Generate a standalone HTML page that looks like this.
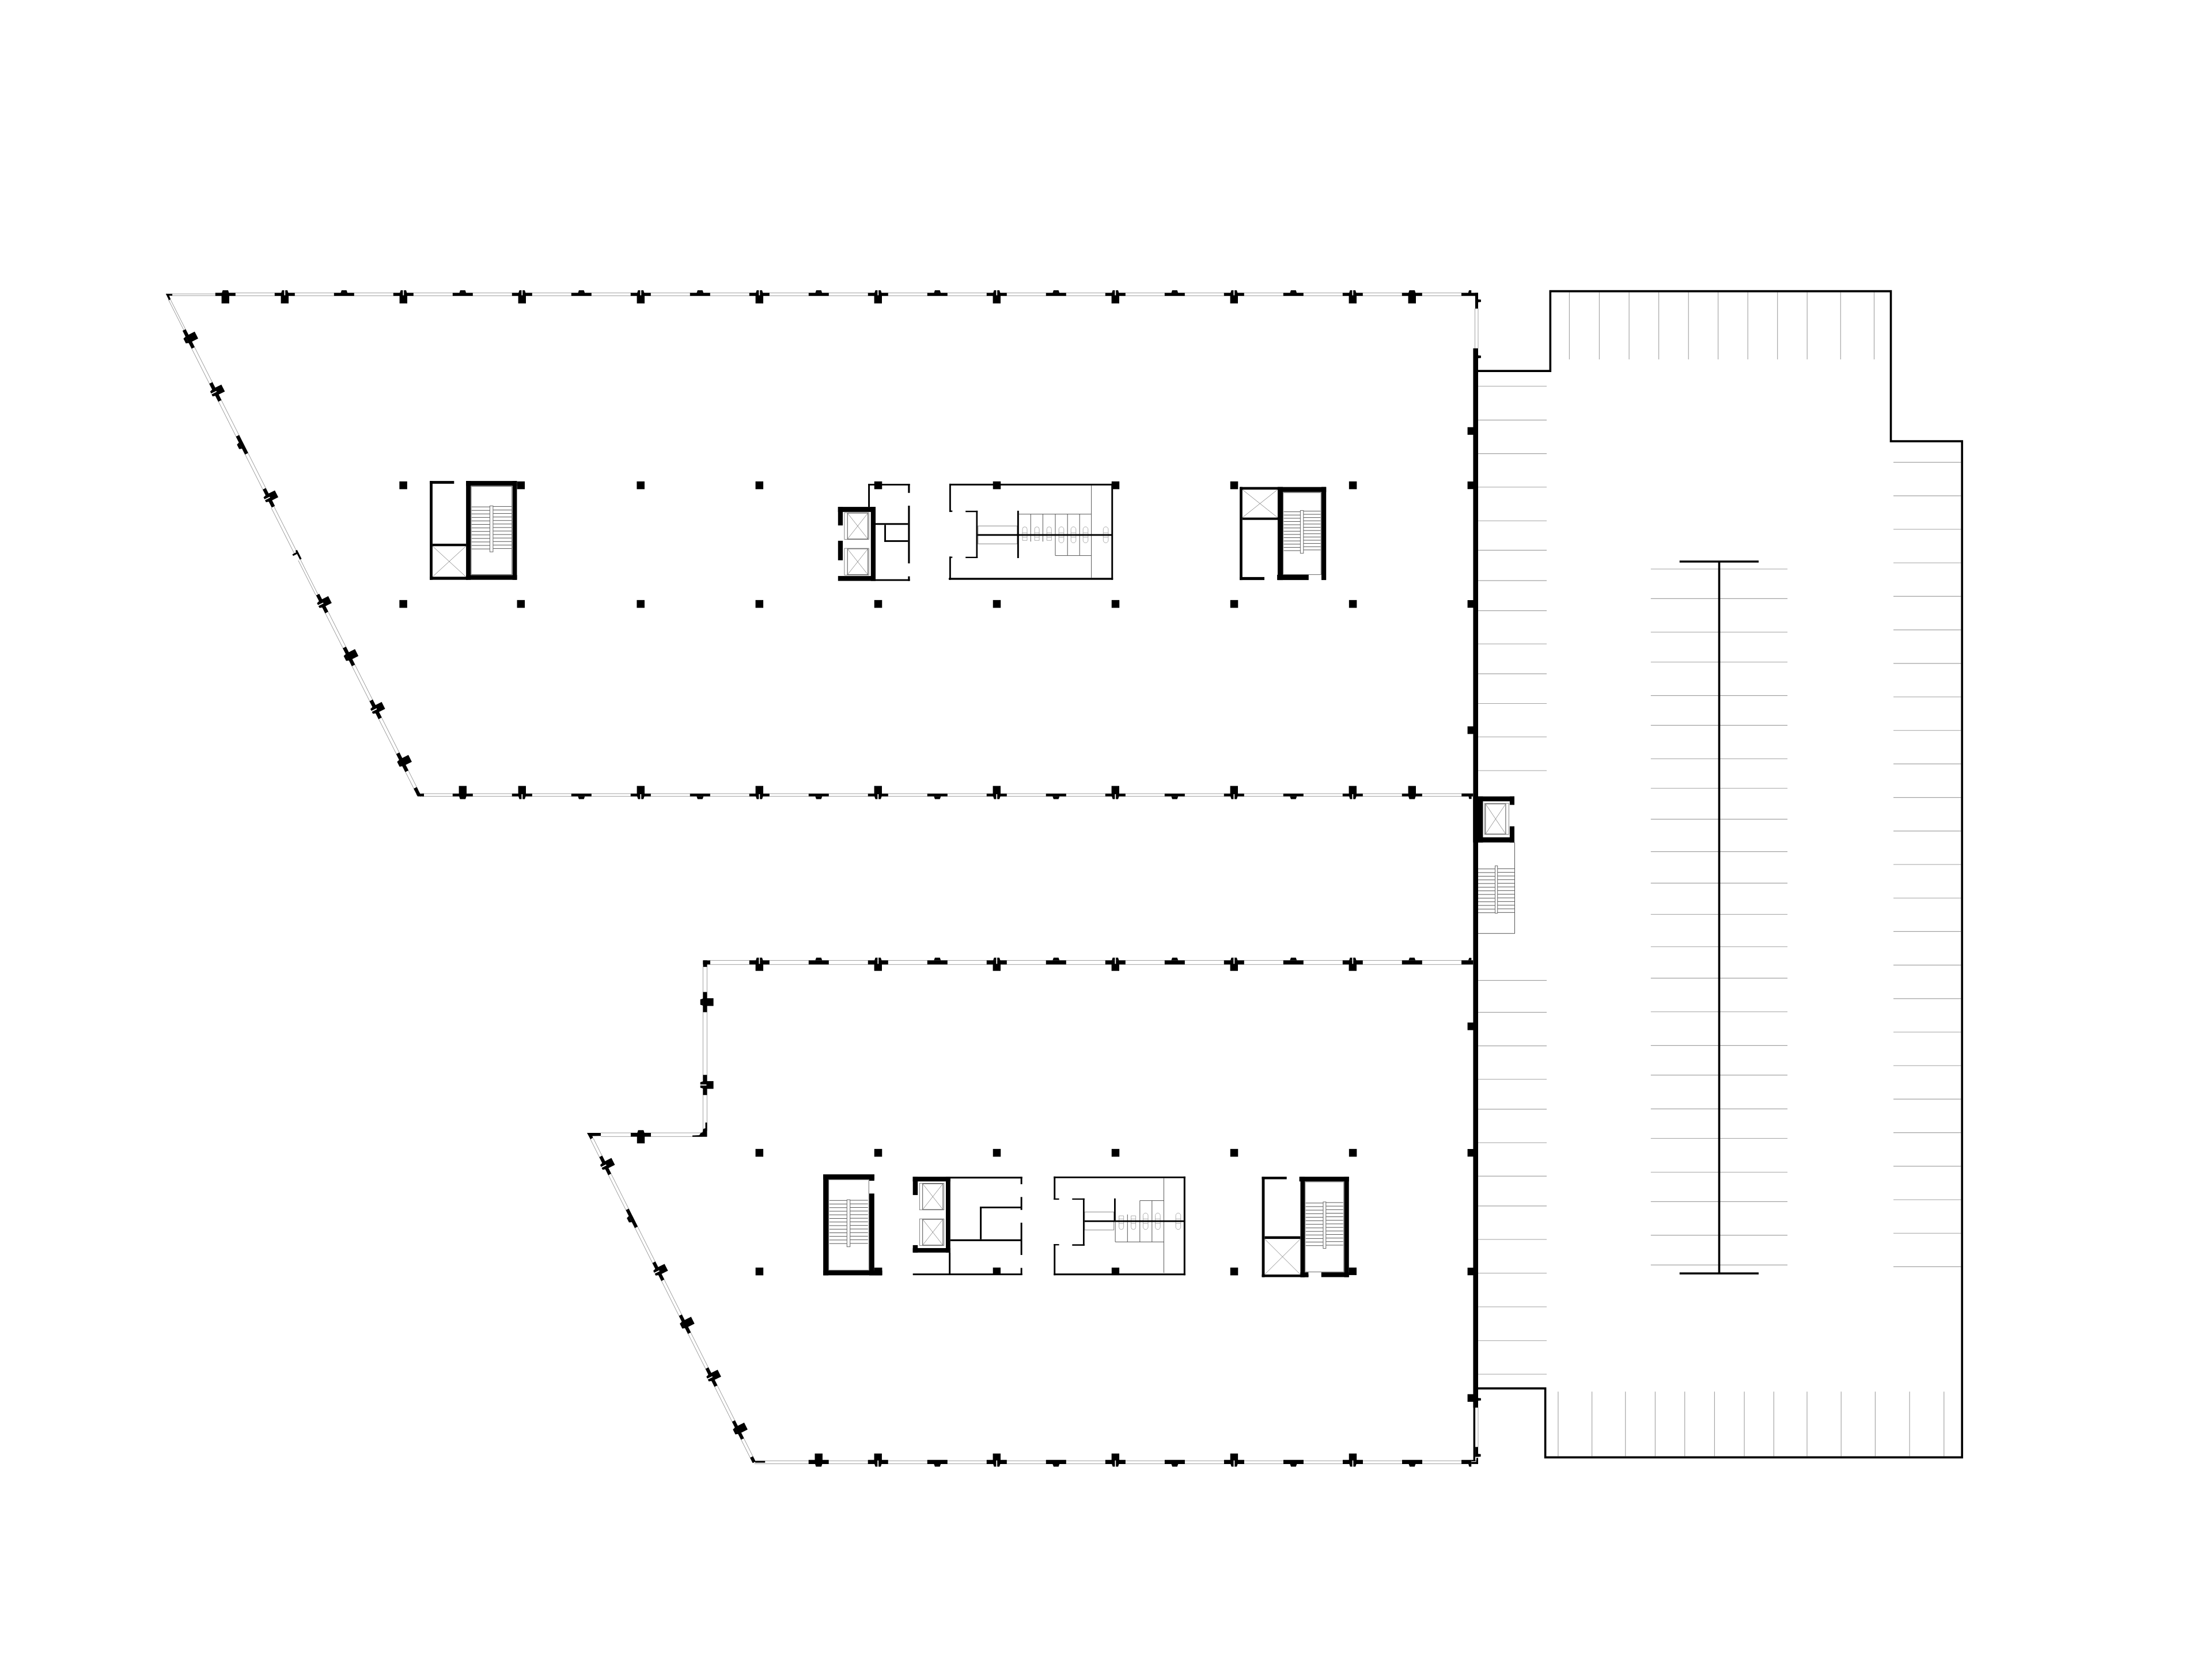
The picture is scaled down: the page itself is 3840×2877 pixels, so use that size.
<!DOCTYPE html>
<html lang="en"><head><meta charset="utf-8"><title>Floor plan</title>
<style>html,body{margin:0;padding:0;background:#fff}body{width:3840px;height:2877px;overflow:hidden;font-family:"Liberation Sans",sans-serif}svg{display:block}</style>
</head><body>
<svg width="3840" height="2877" viewBox="0 0 3840 2877" shape-rendering="geometricPrecision">
<rect width="3840" height="2877" fill="#fff"/>
<g>
<line x1="373.8" y1="508.6" x2="2566" y2="508.6" stroke="#9c9c9c" stroke-width="0.95"/>
<line x1="373.8" y1="513.6" x2="2566" y2="513.6" stroke="#9c9c9c" stroke-width="0.95"/>
<line x1="299" y1="510.3" x2="373.8" y2="510.3" stroke="#9c9c9c" stroke-width="0.95"/>
<line x1="299" y1="513.4" x2="373.8" y2="513.4" stroke="#9c9c9c" stroke-width="0.95"/>
<line x1="332.89" y1="605.48" x2="456.23" y2="849.82" stroke="#868686" stroke-width="0.85"/>
<line x1="337.89" y1="602.96" x2="461.23" y2="847.29" stroke="#868686" stroke-width="0.85"/>
<line x1="470.84" y1="881.65" x2="510.81" y2="960.83" stroke="#868686" stroke-width="0.85"/>
<line x1="475.57" y1="879.26" x2="514.28" y2="955.94" stroke="#868686" stroke-width="0.85"/>
<line x1="517.79" y1="973.1" x2="548.44" y2="1033.8" stroke="#868686" stroke-width="0.85"/>
<line x1="521.36" y1="971.3" x2="552.01" y2="1032" stroke="#868686" stroke-width="0.85"/>
<line x1="564.75" y1="1064.78" x2="720.66" y2="1373.64" stroke="#868686" stroke-width="0.85"/>
<line x1="569.74" y1="1062.26" x2="725.66" y2="1371.11" stroke="#868686" stroke-width="0.85"/>
<line x1="292.26" y1="520.13" x2="319.08" y2="573.25" stroke="#868686" stroke-width="0.85"/>
<line x1="295.21" y1="518.65" x2="322.02" y2="571.76" stroke="#868686" stroke-width="0.85"/>
<line x1="733.2" y1="1382.6" x2="2557" y2="1382.6" stroke="#9c9c9c" stroke-width="0.95"/>
<line x1="733.2" y1="1378" x2="2557" y2="1378" stroke="#9c9c9c" stroke-width="0.95"/>
<line x1="2560.5" y1="535.8" x2="2560.5" y2="604.8" stroke="#9c9c9c" stroke-width="0.95"/>
<line x1="2566" y1="535.8" x2="2566" y2="604.8" stroke="#9c9c9c" stroke-width="0.95"/>
<line x1="2566" y1="2444" x2="2566" y2="2512.3" stroke="#9c9c9c" stroke-width="0.95"/>
<line x1="1232.5" y1="1667.5" x2="2557" y2="1667.5" stroke="#9c9c9c" stroke-width="0.95"/>
<line x1="1232.5" y1="1674.7" x2="2557" y2="1674.7" stroke="#9c9c9c" stroke-width="0.95"/>
<line x1="1220.4" y1="1678.5" x2="1220.4" y2="1963.7" stroke="#9c9c9c" stroke-width="0.95"/>
<line x1="1227.4" y1="1678.5" x2="1227.4" y2="1963.7" stroke="#9c9c9c" stroke-width="0.95"/>
<line x1="1043" y1="1967" x2="1219.5" y2="1967" stroke="#9c9c9c" stroke-width="0.95"/>
<line x1="1043" y1="1973.3" x2="1219.5" y2="1973.3" stroke="#9c9c9c" stroke-width="0.95"/>
<line x1="1024.36" y1="1976.84" x2="1306.75" y2="2539.82" stroke="#868686" stroke-width="0.85"/>
<line x1="1029.91" y1="1976.3" x2="1311.4" y2="2537.49" stroke="#868686" stroke-width="0.85"/>
<line x1="1309.5" y1="2541.5" x2="2554" y2="2541.5" stroke="#9c9c9c" stroke-width="0.95"/>
<line x1="1312.5" y1="2536.4" x2="2554" y2="2536.4" stroke="#9c9c9c" stroke-width="0.95"/>
<line x1="2724.4" y1="507.3" x2="2724.4" y2="624" stroke="#a2a2a2" stroke-width="1.15"/>
<line x1="2776.4" y1="507.3" x2="2776.4" y2="624" stroke="#a2a2a2" stroke-width="1.15"/>
<line x1="2828.1" y1="507.3" x2="2828.1" y2="624" stroke="#a2a2a2" stroke-width="1.15"/>
<line x1="2879.6" y1="507.3" x2="2879.6" y2="624" stroke="#a2a2a2" stroke-width="1.15"/>
<line x1="2931.2" y1="507.3" x2="2931.2" y2="624" stroke="#a2a2a2" stroke-width="1.15"/>
<line x1="2982.6" y1="507.3" x2="2982.6" y2="624" stroke="#a2a2a2" stroke-width="1.15"/>
<line x1="3034.2" y1="507.3" x2="3034.2" y2="624" stroke="#a2a2a2" stroke-width="1.15"/>
<line x1="3085.7" y1="507.3" x2="3085.7" y2="624" stroke="#a2a2a2" stroke-width="1.15"/>
<line x1="3137.2" y1="507.3" x2="3137.2" y2="624" stroke="#a2a2a2" stroke-width="1.15"/>
<line x1="3195.3" y1="507.3" x2="3195.3" y2="624" stroke="#a2a2a2" stroke-width="1.15"/>
<line x1="3253.5" y1="507.3" x2="3253.5" y2="624" stroke="#a2a2a2" stroke-width="1.15"/>
<line x1="2566" y1="670.5" x2="2685" y2="670.5" stroke="#a2a2a2" stroke-width="1.15"/>
<line x1="2566" y1="729.3" x2="2685" y2="729.3" stroke="#a2a2a2" stroke-width="1.15"/>
<line x1="2566" y1="787.6" x2="2685" y2="787.6" stroke="#a2a2a2" stroke-width="1.15"/>
<line x1="2566" y1="845.7" x2="2685" y2="845.7" stroke="#a2a2a2" stroke-width="1.15"/>
<line x1="2566" y1="904.2" x2="2685" y2="904.2" stroke="#a2a2a2" stroke-width="1.15"/>
<line x1="2566" y1="955.4" x2="2685" y2="955.4" stroke="#a2a2a2" stroke-width="1.15"/>
<line x1="2566" y1="1008.1" x2="2685" y2="1008.1" stroke="#a2a2a2" stroke-width="1.15"/>
<line x1="2566" y1="1060.3" x2="2685" y2="1060.3" stroke="#a2a2a2" stroke-width="1.15"/>
<line x1="2566" y1="1118" x2="2685" y2="1118" stroke="#a2a2a2" stroke-width="1.15"/>
<line x1="2566" y1="1169.9" x2="2685" y2="1169.9" stroke="#a2a2a2" stroke-width="1.15"/>
<line x1="2566" y1="1221.5" x2="2685" y2="1221.5" stroke="#a2a2a2" stroke-width="1.15"/>
<line x1="2566" y1="1279.5" x2="2685" y2="1279.5" stroke="#a2a2a2" stroke-width="1.15"/>
<line x1="2566" y1="1338" x2="2685" y2="1338" stroke="#a2a2a2" stroke-width="1.15"/>
<line x1="2566" y1="1702.4" x2="2685" y2="1702.4" stroke="#a2a2a2" stroke-width="1.15"/>
<line x1="2566" y1="1757.6" x2="2685" y2="1757.6" stroke="#a2a2a2" stroke-width="1.15"/>
<line x1="2566" y1="1815.9" x2="2685" y2="1815.9" stroke="#a2a2a2" stroke-width="1.15"/>
<line x1="2566" y1="1874" x2="2685" y2="1874" stroke="#a2a2a2" stroke-width="1.15"/>
<line x1="2566" y1="1925.8" x2="2685" y2="1925.8" stroke="#a2a2a2" stroke-width="1.15"/>
<line x1="2566" y1="1984" x2="2685" y2="1984" stroke="#a2a2a2" stroke-width="1.15"/>
<line x1="2566" y1="2042.1" x2="2685" y2="2042.1" stroke="#a2a2a2" stroke-width="1.15"/>
<line x1="2566" y1="2093.8" x2="2685" y2="2093.8" stroke="#a2a2a2" stroke-width="1.15"/>
<line x1="2566" y1="2152" x2="2685" y2="2152" stroke="#a2a2a2" stroke-width="1.15"/>
<line x1="2566" y1="2210.5" x2="2685" y2="2210.5" stroke="#a2a2a2" stroke-width="1.15"/>
<line x1="2566" y1="2269" x2="2685" y2="2269" stroke="#a2a2a2" stroke-width="1.15"/>
<line x1="2566" y1="2327.7" x2="2685" y2="2327.7" stroke="#a2a2a2" stroke-width="1.15"/>
<line x1="2566" y1="2386" x2="2685" y2="2386" stroke="#a2a2a2" stroke-width="1.15"/>
<line x1="2865.8" y1="988" x2="3103" y2="988" stroke="#a2a2a2" stroke-width="1.15"/>
<line x1="2865.8" y1="1039.3" x2="3103" y2="1039.3" stroke="#a2a2a2" stroke-width="1.15"/>
<line x1="2865.8" y1="1097.5" x2="3103" y2="1097.5" stroke="#a2a2a2" stroke-width="1.15"/>
<line x1="2865.8" y1="1149.5" x2="3103" y2="1149.5" stroke="#a2a2a2" stroke-width="1.15"/>
<line x1="2865.8" y1="1207.6" x2="3103" y2="1207.6" stroke="#a2a2a2" stroke-width="1.15"/>
<line x1="2865.8" y1="1259.3" x2="3103" y2="1259.3" stroke="#a2a2a2" stroke-width="1.15"/>
<line x1="2865.8" y1="1317.5" x2="3103" y2="1317.5" stroke="#a2a2a2" stroke-width="1.15"/>
<line x1="2865.8" y1="1368.7" x2="3103" y2="1368.7" stroke="#a2a2a2" stroke-width="1.15"/>
<line x1="2865.8" y1="1422.4" x2="3103" y2="1422.4" stroke="#a2a2a2" stroke-width="1.15"/>
<line x1="2865.8" y1="1478.6" x2="3103" y2="1478.6" stroke="#a2a2a2" stroke-width="1.15"/>
<line x1="2865.8" y1="1533.3" x2="3103" y2="1533.3" stroke="#a2a2a2" stroke-width="1.15"/>
<line x1="2865.8" y1="1587.5" x2="3103" y2="1587.5" stroke="#a2a2a2" stroke-width="1.15"/>
<line x1="2865.8" y1="1643.7" x2="3103" y2="1643.7" stroke="#a2a2a2" stroke-width="1.15"/>
<line x1="2865.8" y1="1698.4" x2="3103" y2="1698.4" stroke="#a2a2a2" stroke-width="1.15"/>
<line x1="2865.8" y1="1756.7" x2="3103" y2="1756.7" stroke="#a2a2a2" stroke-width="1.15"/>
<line x1="2865.8" y1="1815.4" x2="3103" y2="1815.4" stroke="#a2a2a2" stroke-width="1.15"/>
<line x1="2865.8" y1="1866.6" x2="3103" y2="1866.6" stroke="#a2a2a2" stroke-width="1.15"/>
<line x1="2865.8" y1="1925.3" x2="3103" y2="1925.3" stroke="#a2a2a2" stroke-width="1.15"/>
<line x1="2865.8" y1="1976.5" x2="3103" y2="1976.5" stroke="#a2a2a2" stroke-width="1.15"/>
<line x1="2865.8" y1="2035.2" x2="3103" y2="2035.2" stroke="#a2a2a2" stroke-width="1.15"/>
<line x1="2865.8" y1="2086.4" x2="3103" y2="2086.4" stroke="#a2a2a2" stroke-width="1.15"/>
<line x1="2865.8" y1="2144.6" x2="3103" y2="2144.6" stroke="#a2a2a2" stroke-width="1.15"/>
<line x1="2865.8" y1="2196.3" x2="3103" y2="2196.3" stroke="#a2a2a2" stroke-width="1.15"/>
<line x1="3287" y1="802.6" x2="3404.4" y2="802.6" stroke="#a2a2a2" stroke-width="1.15"/>
<line x1="3287" y1="860.8" x2="3404.4" y2="860.8" stroke="#a2a2a2" stroke-width="1.15"/>
<line x1="3287" y1="919" x2="3404.4" y2="919" stroke="#a2a2a2" stroke-width="1.15"/>
<line x1="3287" y1="977.2" x2="3404.4" y2="977.2" stroke="#a2a2a2" stroke-width="1.15"/>
<line x1="3287" y1="1035.4" x2="3404.4" y2="1035.4" stroke="#a2a2a2" stroke-width="1.15"/>
<line x1="3287" y1="1093.6" x2="3404.4" y2="1093.6" stroke="#a2a2a2" stroke-width="1.15"/>
<line x1="3287" y1="1151.8" x2="3404.4" y2="1151.8" stroke="#a2a2a2" stroke-width="1.15"/>
<line x1="3287" y1="1210" x2="3404.4" y2="1210" stroke="#a2a2a2" stroke-width="1.15"/>
<line x1="3287" y1="1268.2" x2="3404.4" y2="1268.2" stroke="#a2a2a2" stroke-width="1.15"/>
<line x1="3287" y1="1326.4" x2="3404.4" y2="1326.4" stroke="#a2a2a2" stroke-width="1.15"/>
<line x1="3287" y1="1384.6" x2="3404.4" y2="1384.6" stroke="#a2a2a2" stroke-width="1.15"/>
<line x1="3287" y1="1442.8" x2="3404.4" y2="1442.8" stroke="#a2a2a2" stroke-width="1.15"/>
<line x1="3287" y1="1501" x2="3404.4" y2="1501" stroke="#a2a2a2" stroke-width="1.15"/>
<line x1="3287" y1="1559.2" x2="3404.4" y2="1559.2" stroke="#a2a2a2" stroke-width="1.15"/>
<line x1="3287" y1="1617.4" x2="3404.4" y2="1617.4" stroke="#a2a2a2" stroke-width="1.15"/>
<line x1="3287" y1="1675.6" x2="3404.4" y2="1675.6" stroke="#a2a2a2" stroke-width="1.15"/>
<line x1="3287" y1="1733.8" x2="3404.4" y2="1733.8" stroke="#a2a2a2" stroke-width="1.15"/>
<line x1="3287" y1="1792" x2="3404.4" y2="1792" stroke="#a2a2a2" stroke-width="1.15"/>
<line x1="3287" y1="1850.2" x2="3404.4" y2="1850.2" stroke="#a2a2a2" stroke-width="1.15"/>
<line x1="3287" y1="1908.4" x2="3404.4" y2="1908.4" stroke="#a2a2a2" stroke-width="1.15"/>
<line x1="3287" y1="1966.6" x2="3404.4" y2="1966.6" stroke="#a2a2a2" stroke-width="1.15"/>
<line x1="3287" y1="2024.8" x2="3404.4" y2="2024.8" stroke="#a2a2a2" stroke-width="1.15"/>
<line x1="3287" y1="2083" x2="3404.4" y2="2083" stroke="#a2a2a2" stroke-width="1.15"/>
<line x1="3287" y1="2141.2" x2="3404.4" y2="2141.2" stroke="#a2a2a2" stroke-width="1.15"/>
<line x1="3287" y1="2199.4" x2="3404.4" y2="2199.4" stroke="#a2a2a2" stroke-width="1.15"/>
<line x1="2704.9" y1="2416.3" x2="2704.9" y2="2528.6" stroke="#a2a2a2" stroke-width="1.15"/>
<line x1="2763.6" y1="2416.3" x2="2763.6" y2="2528.6" stroke="#a2a2a2" stroke-width="1.15"/>
<line x1="2821.7" y1="2416.3" x2="2821.7" y2="2528.6" stroke="#a2a2a2" stroke-width="1.15"/>
<line x1="2873.4" y1="2416.3" x2="2873.4" y2="2528.6" stroke="#a2a2a2" stroke-width="1.15"/>
<line x1="2924.7" y1="2416.3" x2="2924.7" y2="2528.6" stroke="#a2a2a2" stroke-width="1.15"/>
<line x1="2976.4" y1="2416.3" x2="2976.4" y2="2528.6" stroke="#a2a2a2" stroke-width="1.15"/>
<line x1="3028.1" y1="2416.3" x2="3028.1" y2="2528.6" stroke="#a2a2a2" stroke-width="1.15"/>
<line x1="3079.3" y1="2416.3" x2="3079.3" y2="2528.6" stroke="#a2a2a2" stroke-width="1.15"/>
<line x1="3137" y1="2416.3" x2="3137" y2="2528.6" stroke="#a2a2a2" stroke-width="1.15"/>
<line x1="3196.2" y1="2416.3" x2="3196.2" y2="2528.6" stroke="#a2a2a2" stroke-width="1.15"/>
<line x1="3255.4" y1="2416.3" x2="3255.4" y2="2528.6" stroke="#a2a2a2" stroke-width="1.15"/>
<line x1="3315" y1="2416.3" x2="3315" y2="2528.6" stroke="#a2a2a2" stroke-width="1.15"/>
<line x1="3374.7" y1="2416.3" x2="3374.7" y2="2528.6" stroke="#a2a2a2" stroke-width="1.15"/>
<line x1="750.9" y1="948.3" x2="808.8" y2="1001.4" stroke="#888" stroke-width="0.9"/>
<line x1="750.9" y1="1001.4" x2="808.8" y2="948.3" stroke="#888" stroke-width="0.9"/>
<rect x="818" y="844.5" width="70.6" height="153" fill="none" stroke="#777" stroke-width="1.1"/>
<line x1="818.6" y1="880.1" x2="850.4" y2="880.1" stroke="#555" stroke-width="1"/>
<line x1="855.9" y1="879.4" x2="888.2" y2="879.4" stroke="#555" stroke-width="1"/>
<line x1="818.6" y1="886.19" x2="850.4" y2="886.19" stroke="#555" stroke-width="1"/>
<line x1="855.9" y1="885.49" x2="888.2" y2="885.49" stroke="#555" stroke-width="1"/>
<line x1="818.6" y1="892.27" x2="850.4" y2="892.27" stroke="#555" stroke-width="1"/>
<line x1="855.9" y1="891.57" x2="888.2" y2="891.57" stroke="#555" stroke-width="1"/>
<line x1="818.6" y1="898.36" x2="850.4" y2="898.36" stroke="#555" stroke-width="1"/>
<line x1="855.9" y1="897.65" x2="888.2" y2="897.65" stroke="#555" stroke-width="1"/>
<line x1="818.6" y1="904.44" x2="850.4" y2="904.44" stroke="#555" stroke-width="1"/>
<line x1="855.9" y1="903.74" x2="888.2" y2="903.74" stroke="#555" stroke-width="1"/>
<line x1="818.6" y1="910.52" x2="850.4" y2="910.52" stroke="#555" stroke-width="1"/>
<line x1="855.9" y1="909.82" x2="888.2" y2="909.82" stroke="#555" stroke-width="1"/>
<line x1="818.6" y1="916.61" x2="850.4" y2="916.61" stroke="#555" stroke-width="1"/>
<line x1="855.9" y1="915.91" x2="888.2" y2="915.91" stroke="#555" stroke-width="1"/>
<line x1="818.6" y1="922.7" x2="850.4" y2="922.7" stroke="#555" stroke-width="1"/>
<line x1="855.9" y1="922" x2="888.2" y2="922" stroke="#555" stroke-width="1"/>
<line x1="818.6" y1="928.78" x2="850.4" y2="928.78" stroke="#555" stroke-width="1"/>
<line x1="855.9" y1="928.08" x2="888.2" y2="928.08" stroke="#555" stroke-width="1"/>
<line x1="818.6" y1="934.87" x2="850.4" y2="934.87" stroke="#555" stroke-width="1"/>
<line x1="855.9" y1="934.16" x2="888.2" y2="934.16" stroke="#555" stroke-width="1"/>
<line x1="818.6" y1="940.95" x2="850.4" y2="940.95" stroke="#555" stroke-width="1"/>
<line x1="855.9" y1="940.25" x2="888.2" y2="940.25" stroke="#555" stroke-width="1"/>
<line x1="818.6" y1="947.04" x2="850.4" y2="947.04" stroke="#555" stroke-width="1"/>
<line x1="855.9" y1="946.34" x2="888.2" y2="946.34" stroke="#555" stroke-width="1"/>
<line x1="818.6" y1="953.12" x2="850.4" y2="953.12" stroke="#555" stroke-width="1"/>
<line x1="855.9" y1="952.42" x2="888.2" y2="952.42" stroke="#555" stroke-width="1"/>
<rect x="850.4" y="878.4" width="5.5" height="79.8" fill="#fff" stroke="#666" stroke-width="1"/>
<rect x="1465.9" y="890.1" width="42.4" height="46.4" fill="none" stroke="#666" stroke-width="0.8"/>
<rect x="1471.2" y="890.9" width="35.5" height="45" fill="none" stroke="#444" stroke-width="0.95"/>
<line x1="1471.2" y1="890.9" x2="1506.7" y2="935.9" stroke="#777" stroke-width="0.75"/>
<line x1="1471.2" y1="935.9" x2="1506.7" y2="890.9" stroke="#777" stroke-width="0.75"/>
<rect x="1465.9" y="952.1" width="42.4" height="46.3" fill="none" stroke="#666" stroke-width="0.8"/>
<rect x="1471.2" y="952.9" width="35.5" height="44.9" fill="none" stroke="#444" stroke-width="0.95"/>
<line x1="1471.2" y1="952.9" x2="1506.7" y2="997.8" stroke="#777" stroke-width="0.75"/>
<line x1="1471.2" y1="997.8" x2="1506.7" y2="952.9" stroke="#777" stroke-width="0.75"/>
<rect x="1697.9" y="913.2" width="68" height="31.1" fill="none" stroke="#888" stroke-width="1"/>
<line x1="1768.8" y1="892.7" x2="1894.6" y2="892.7" stroke="#555" stroke-width="1"/>
<line x1="1789.3" y1="892.7" x2="1789.3" y2="940.3" stroke="#555" stroke-width="1"/>
<line x1="1810.4" y1="892.7" x2="1810.4" y2="940.3" stroke="#555" stroke-width="1"/>
<line x1="1832" y1="892.7" x2="1832" y2="964.6" stroke="#555" stroke-width="1"/>
<line x1="1853.2" y1="892.7" x2="1853.2" y2="964.6" stroke="#555" stroke-width="1"/>
<line x1="1874.2" y1="892.7" x2="1874.2" y2="964.6" stroke="#555" stroke-width="1"/>
<line x1="1832" y1="964.6" x2="1894.6" y2="964.6" stroke="#555" stroke-width="1"/>
<line x1="1894.6" y1="842.9" x2="1894.6" y2="1003.3" stroke="#555" stroke-width="1"/>
<path d="M1775 938.3 V918.7 A4 4 0 0 1 1783 918.7 V938.3 Z" fill="none" stroke="#969696" stroke-width="0.75"/>
<line x1="1775" y1="932.8" x2="1783" y2="932.8" stroke="#969696" stroke-width="0.75"/>
<line x1="1774.7" y1="925.1" x2="1783.3" y2="925.1" stroke="#969696" stroke-width="0.75"/>
<path d="M1796.1 938.3 V918.7 A4 4 0 0 1 1804.1 918.7 V938.3 Z" fill="none" stroke="#969696" stroke-width="0.75"/>
<line x1="1796.1" y1="932.8" x2="1804.1" y2="932.8" stroke="#969696" stroke-width="0.75"/>
<line x1="1795.8" y1="925.1" x2="1804.4" y2="925.1" stroke="#969696" stroke-width="0.75"/>
<path d="M1817.3 938.3 V918.7 A4 4 0 0 1 1825.3 918.7 V938.3 Z" fill="none" stroke="#969696" stroke-width="0.75"/>
<line x1="1817.3" y1="932.8" x2="1825.3" y2="932.8" stroke="#969696" stroke-width="0.75"/>
<line x1="1817" y1="925.1" x2="1825.6" y2="925.1" stroke="#969696" stroke-width="0.75"/>
<path d="M1838.2 938.2 V919 A4.3 4.3 0 0 1 1846.8 919 V938.2 A4.3 4.3 0 0 1 1838.2 938.2 Z" fill="none" stroke="#969696" stroke-width="0.75"/>
<line x1="1838.2" y1="932.8" x2="1846.8" y2="932.8" stroke="#969696" stroke-width="0.75"/>
<line x1="1838.2" y1="925.1" x2="1846.8" y2="925.1" stroke="#969696" stroke-width="0.75"/>
<path d="M1859.2 938.2 V919 A4.3 4.3 0 0 1 1867.8 919 V938.2 A4.3 4.3 0 0 1 1859.2 938.2 Z" fill="none" stroke="#969696" stroke-width="0.75"/>
<line x1="1859.2" y1="932.8" x2="1867.8" y2="932.8" stroke="#969696" stroke-width="0.75"/>
<line x1="1859.2" y1="925.1" x2="1867.8" y2="925.1" stroke="#969696" stroke-width="0.75"/>
<path d="M1880.2 938.2 V919 A4.3 4.3 0 0 1 1888.8 919 V938.2 A4.3 4.3 0 0 1 1880.2 938.2 Z" fill="none" stroke="#969696" stroke-width="0.75"/>
<line x1="1880.2" y1="932.8" x2="1888.8" y2="932.8" stroke="#969696" stroke-width="0.75"/>
<line x1="1880.2" y1="925.1" x2="1888.8" y2="925.1" stroke="#969696" stroke-width="0.75"/>
<path d="M1915.3 938.2 V919 A4.3 4.3 0 0 1 1923.9 919 V938.2 A4.3 4.3 0 0 1 1915.3 938.2 Z" fill="none" stroke="#969696" stroke-width="0.75"/>
<line x1="1915.3" y1="932.8" x2="1923.9" y2="932.8" stroke="#969696" stroke-width="0.75"/>
<line x1="1915.3" y1="925.1" x2="1923.9" y2="925.1" stroke="#969696" stroke-width="0.75"/>
<line x1="2156.8" y1="850.1" x2="2217.8" y2="898.6" stroke="#888" stroke-width="0.9"/>
<line x1="2156.8" y1="898.6" x2="2217.8" y2="850.1" stroke="#888" stroke-width="0.9"/>
<rect x="2227.6" y="855.4" width="65.6" height="142.2" fill="none" stroke="#777" stroke-width="1.1"/>
<line x1="2228.5" y1="888.6" x2="2257.4" y2="888.6" stroke="#555" stroke-width="1"/>
<line x1="2262.8" y1="887.4" x2="2292.6" y2="887.4" stroke="#555" stroke-width="1"/>
<line x1="2228.5" y1="894.22" x2="2257.4" y2="894.22" stroke="#555" stroke-width="1"/>
<line x1="2262.8" y1="893.02" x2="2292.6" y2="893.02" stroke="#555" stroke-width="1"/>
<line x1="2228.5" y1="899.84" x2="2257.4" y2="899.84" stroke="#555" stroke-width="1"/>
<line x1="2262.8" y1="898.64" x2="2292.6" y2="898.64" stroke="#555" stroke-width="1"/>
<line x1="2228.5" y1="905.46" x2="2257.4" y2="905.46" stroke="#555" stroke-width="1"/>
<line x1="2262.8" y1="904.26" x2="2292.6" y2="904.26" stroke="#555" stroke-width="1"/>
<line x1="2228.5" y1="911.08" x2="2257.4" y2="911.08" stroke="#555" stroke-width="1"/>
<line x1="2262.8" y1="909.88" x2="2292.6" y2="909.88" stroke="#555" stroke-width="1"/>
<line x1="2228.5" y1="916.7" x2="2257.4" y2="916.7" stroke="#555" stroke-width="1"/>
<line x1="2262.8" y1="915.5" x2="2292.6" y2="915.5" stroke="#555" stroke-width="1"/>
<line x1="2228.5" y1="922.32" x2="2257.4" y2="922.32" stroke="#555" stroke-width="1"/>
<line x1="2262.8" y1="921.12" x2="2292.6" y2="921.12" stroke="#555" stroke-width="1"/>
<line x1="2228.5" y1="927.94" x2="2257.4" y2="927.94" stroke="#555" stroke-width="1"/>
<line x1="2262.8" y1="926.74" x2="2292.6" y2="926.74" stroke="#555" stroke-width="1"/>
<line x1="2228.5" y1="933.56" x2="2257.4" y2="933.56" stroke="#555" stroke-width="1"/>
<line x1="2262.8" y1="932.36" x2="2292.6" y2="932.36" stroke="#555" stroke-width="1"/>
<line x1="2228.5" y1="939.18" x2="2257.4" y2="939.18" stroke="#555" stroke-width="1"/>
<line x1="2262.8" y1="937.98" x2="2292.6" y2="937.98" stroke="#555" stroke-width="1"/>
<line x1="2228.5" y1="944.8" x2="2257.4" y2="944.8" stroke="#555" stroke-width="1"/>
<line x1="2262.8" y1="943.6" x2="2292.6" y2="943.6" stroke="#555" stroke-width="1"/>
<line x1="2228.5" y1="950.42" x2="2257.4" y2="950.42" stroke="#555" stroke-width="1"/>
<line x1="2262.8" y1="949.22" x2="2292.6" y2="949.22" stroke="#555" stroke-width="1"/>
<line x1="2228.5" y1="956.04" x2="2257.4" y2="956.04" stroke="#555" stroke-width="1"/>
<line x1="2262.8" y1="954.84" x2="2292.6" y2="954.84" stroke="#555" stroke-width="1"/>
<rect x="2257.4" y="886.4" width="5.4" height="74.2" fill="#fff" stroke="#666" stroke-width="1"/>
<rect x="2577.1" y="1395" width="42.2" height="53.7" fill="none" stroke="#666" stroke-width="0.8"/>
<rect x="2578.8" y="1395.8" width="35.1" height="52.3" fill="none" stroke="#444" stroke-width="0.95"/>
<line x1="2578.8" y1="1395.8" x2="2613.9" y2="1448.1" stroke="#777" stroke-width="0.75"/>
<line x1="2578.8" y1="1448.1" x2="2613.9" y2="1395.8" stroke="#777" stroke-width="0.75"/>
<line x1="2629.5" y1="1462.7" x2="2629.5" y2="1620.7" stroke="#555" stroke-width="1"/>
<line x1="2566" y1="1620.7" x2="2630" y2="1620.7" stroke="#555" stroke-width="1"/>
<line x1="2566" y1="1508.7" x2="2595.5" y2="1508.7" stroke="#555" stroke-width="1"/>
<line x1="2599.7" y1="1508.3" x2="2629.5" y2="1508.3" stroke="#555" stroke-width="1"/>
<line x1="2566" y1="1515.04" x2="2595.5" y2="1515.04" stroke="#555" stroke-width="1"/>
<line x1="2599.7" y1="1514.63" x2="2629.5" y2="1514.63" stroke="#555" stroke-width="1"/>
<line x1="2566" y1="1521.37" x2="2595.5" y2="1521.37" stroke="#555" stroke-width="1"/>
<line x1="2599.7" y1="1520.97" x2="2629.5" y2="1520.97" stroke="#555" stroke-width="1"/>
<line x1="2566" y1="1527.71" x2="2595.5" y2="1527.71" stroke="#555" stroke-width="1"/>
<line x1="2599.7" y1="1527.31" x2="2629.5" y2="1527.31" stroke="#555" stroke-width="1"/>
<line x1="2566" y1="1534.04" x2="2595.5" y2="1534.04" stroke="#555" stroke-width="1"/>
<line x1="2599.7" y1="1533.64" x2="2629.5" y2="1533.64" stroke="#555" stroke-width="1"/>
<line x1="2566" y1="1540.38" x2="2595.5" y2="1540.38" stroke="#555" stroke-width="1"/>
<line x1="2599.7" y1="1539.97" x2="2629.5" y2="1539.97" stroke="#555" stroke-width="1"/>
<line x1="2566" y1="1546.71" x2="2595.5" y2="1546.71" stroke="#555" stroke-width="1"/>
<line x1="2599.7" y1="1546.31" x2="2629.5" y2="1546.31" stroke="#555" stroke-width="1"/>
<line x1="2566" y1="1553.05" x2="2595.5" y2="1553.05" stroke="#555" stroke-width="1"/>
<line x1="2599.7" y1="1552.64" x2="2629.5" y2="1552.64" stroke="#555" stroke-width="1"/>
<line x1="2566" y1="1559.38" x2="2595.5" y2="1559.38" stroke="#555" stroke-width="1"/>
<line x1="2599.7" y1="1558.98" x2="2629.5" y2="1558.98" stroke="#555" stroke-width="1"/>
<line x1="2566" y1="1565.72" x2="2595.5" y2="1565.72" stroke="#555" stroke-width="1"/>
<line x1="2599.7" y1="1565.32" x2="2629.5" y2="1565.32" stroke="#555" stroke-width="1"/>
<line x1="2566" y1="1572.05" x2="2595.5" y2="1572.05" stroke="#555" stroke-width="1"/>
<line x1="2599.7" y1="1571.65" x2="2629.5" y2="1571.65" stroke="#555" stroke-width="1"/>
<line x1="2566" y1="1578.38" x2="2595.5" y2="1578.38" stroke="#555" stroke-width="1"/>
<line x1="2599.7" y1="1577.98" x2="2629.5" y2="1577.98" stroke="#555" stroke-width="1"/>
<line x1="2566" y1="1584.72" x2="2595.5" y2="1584.72" stroke="#555" stroke-width="1"/>
<line x1="2599.7" y1="1584.32" x2="2629.5" y2="1584.32" stroke="#555" stroke-width="1"/>
<rect x="2595.5" y="1503.3" width="4.2" height="82.2" fill="#fff" stroke="#666" stroke-width="1"/>
<rect x="1438.6" y="2048.2" width="69.7" height="157.2" fill="none" stroke="#777" stroke-width="1.1"/>
<line x1="1439.7" y1="2084.3" x2="1470.3" y2="2084.3" stroke="#555" stroke-width="1"/>
<line x1="1475.7" y1="2084" x2="1506.8" y2="2084" stroke="#555" stroke-width="1"/>
<line x1="1439.7" y1="2090.54" x2="1470.3" y2="2090.54" stroke="#555" stroke-width="1"/>
<line x1="1475.7" y1="2090.24" x2="1506.8" y2="2090.24" stroke="#555" stroke-width="1"/>
<line x1="1439.7" y1="2096.78" x2="1470.3" y2="2096.78" stroke="#555" stroke-width="1"/>
<line x1="1475.7" y1="2096.48" x2="1506.8" y2="2096.48" stroke="#555" stroke-width="1"/>
<line x1="1439.7" y1="2103.02" x2="1470.3" y2="2103.02" stroke="#555" stroke-width="1"/>
<line x1="1475.7" y1="2102.72" x2="1506.8" y2="2102.72" stroke="#555" stroke-width="1"/>
<line x1="1439.7" y1="2109.26" x2="1470.3" y2="2109.26" stroke="#555" stroke-width="1"/>
<line x1="1475.7" y1="2108.96" x2="1506.8" y2="2108.96" stroke="#555" stroke-width="1"/>
<line x1="1439.7" y1="2115.5" x2="1470.3" y2="2115.5" stroke="#555" stroke-width="1"/>
<line x1="1475.7" y1="2115.2" x2="1506.8" y2="2115.2" stroke="#555" stroke-width="1"/>
<line x1="1439.7" y1="2121.74" x2="1470.3" y2="2121.74" stroke="#555" stroke-width="1"/>
<line x1="1475.7" y1="2121.44" x2="1506.8" y2="2121.44" stroke="#555" stroke-width="1"/>
<line x1="1439.7" y1="2127.98" x2="1470.3" y2="2127.98" stroke="#555" stroke-width="1"/>
<line x1="1475.7" y1="2127.68" x2="1506.8" y2="2127.68" stroke="#555" stroke-width="1"/>
<line x1="1439.7" y1="2134.22" x2="1470.3" y2="2134.22" stroke="#555" stroke-width="1"/>
<line x1="1475.7" y1="2133.92" x2="1506.8" y2="2133.92" stroke="#555" stroke-width="1"/>
<line x1="1439.7" y1="2140.46" x2="1470.3" y2="2140.46" stroke="#555" stroke-width="1"/>
<line x1="1475.7" y1="2140.16" x2="1506.8" y2="2140.16" stroke="#555" stroke-width="1"/>
<line x1="1439.7" y1="2146.7" x2="1470.3" y2="2146.7" stroke="#555" stroke-width="1"/>
<line x1="1475.7" y1="2146.4" x2="1506.8" y2="2146.4" stroke="#555" stroke-width="1"/>
<line x1="1439.7" y1="2152.94" x2="1470.3" y2="2152.94" stroke="#555" stroke-width="1"/>
<line x1="1475.7" y1="2152.64" x2="1506.8" y2="2152.64" stroke="#555" stroke-width="1"/>
<line x1="1439.7" y1="2159.18" x2="1470.3" y2="2159.18" stroke="#555" stroke-width="1"/>
<line x1="1475.7" y1="2158.88" x2="1506.8" y2="2158.88" stroke="#555" stroke-width="1"/>
<rect x="1470.3" y="2083.1" width="5.4" height="81.6" fill="#fff" stroke="#666" stroke-width="1"/>
<rect x="1596.4" y="2054.5" width="42.4" height="46.2" fill="none" stroke="#666" stroke-width="0.8"/>
<rect x="1601.7" y="2055.3" width="35.2" height="44.8" fill="none" stroke="#444" stroke-width="0.95"/>
<line x1="1601.7" y1="2055.3" x2="1636.9" y2="2100.1" stroke="#777" stroke-width="0.75"/>
<line x1="1601.7" y1="2100.1" x2="1636.9" y2="2055.3" stroke="#777" stroke-width="0.75"/>
<rect x="1596.4" y="2116.3" width="42.4" height="46.2" fill="none" stroke="#666" stroke-width="0.8"/>
<rect x="1601.7" y="2117.1" width="35.2" height="44.8" fill="none" stroke="#444" stroke-width="0.95"/>
<line x1="1601.7" y1="2117.1" x2="1636.9" y2="2161.9" stroke="#777" stroke-width="0.75"/>
<line x1="1601.7" y1="2161.9" x2="1636.9" y2="2117.1" stroke="#777" stroke-width="0.75"/>
<rect x="1882.9" y="2104.3" width="50.7" height="31.3" fill="none" stroke="#888" stroke-width="1"/>
<line x1="1936.1" y1="2156.3" x2="2020.4" y2="2156.3" stroke="#555" stroke-width="1"/>
<line x1="1936.1" y1="2121.7" x2="1936.1" y2="2156.3" stroke="#555" stroke-width="1"/>
<line x1="1957.3" y1="2108.7" x2="1957.3" y2="2156.3" stroke="#555" stroke-width="1"/>
<line x1="1978.8" y1="2084.6" x2="1978.8" y2="2156.3" stroke="#555" stroke-width="1"/>
<line x1="1999.8" y1="2084.6" x2="1999.8" y2="2156.3" stroke="#555" stroke-width="1"/>
<line x1="2020.4" y1="2045.6" x2="2020.4" y2="2210.1" stroke="#555" stroke-width="1"/>
<line x1="1978.8" y1="2084.6" x2="2020.4" y2="2084.6" stroke="#555" stroke-width="1"/>
<path d="M1942.6 2111 V2130.7 A4 4 0 0 0 1950.6 2130.7 V2111 Z" fill="none" stroke="#969696" stroke-width="0.75"/>
<line x1="1942.6" y1="2116.5" x2="1950.6" y2="2116.5" stroke="#969696" stroke-width="0.75"/>
<line x1="1942.3" y1="2124.3" x2="1950.9" y2="2124.3" stroke="#969696" stroke-width="0.75"/>
<path d="M1963.6 2111 V2130.7 A4 4 0 0 0 1971.6 2130.7 V2111 Z" fill="none" stroke="#969696" stroke-width="0.75"/>
<line x1="1963.6" y1="2116.5" x2="1971.6" y2="2116.5" stroke="#969696" stroke-width="0.75"/>
<line x1="1963.3" y1="2124.3" x2="1971.9" y2="2124.3" stroke="#969696" stroke-width="0.75"/>
<path d="M1984.4 2130.4 V2110.5 A4.3 4.3 0 0 1 1993 2110.5 V2130.4 A4.3 4.3 0 0 1 1984.4 2130.4 Z" fill="none" stroke="#969696" stroke-width="0.75"/>
<line x1="1984.4" y1="2116.5" x2="1993" y2="2116.5" stroke="#969696" stroke-width="0.75"/>
<line x1="1984.4" y1="2124.3" x2="1993" y2="2124.3" stroke="#969696" stroke-width="0.75"/>
<path d="M2005.6 2130.4 V2110.5 A4.3 4.3 0 0 1 2014.2 2110.5 V2130.4 A4.3 4.3 0 0 1 2005.6 2130.4 Z" fill="none" stroke="#969696" stroke-width="0.75"/>
<line x1="2005.6" y1="2116.5" x2="2014.2" y2="2116.5" stroke="#969696" stroke-width="0.75"/>
<line x1="2005.6" y1="2124.3" x2="2014.2" y2="2124.3" stroke="#969696" stroke-width="0.75"/>
<path d="M2041.1 2130.4 V2110.5 A4.3 4.3 0 0 1 2049.7 2110.5 V2130.4 A4.3 4.3 0 0 1 2041.1 2130.4 Z" fill="none" stroke="#969696" stroke-width="0.75"/>
<line x1="2041.1" y1="2116.5" x2="2049.7" y2="2116.5" stroke="#969696" stroke-width="0.75"/>
<line x1="2041.1" y1="2124.3" x2="2049.7" y2="2124.3" stroke="#969696" stroke-width="0.75"/>
<line x1="2195.4" y1="2151.1" x2="2257.5" y2="2212.9" stroke="#888" stroke-width="0.9"/>
<line x1="2195.4" y1="2212.9" x2="2257.5" y2="2151.1" stroke="#888" stroke-width="0.9"/>
<rect x="2265.8" y="2052" width="67" height="156.4" fill="none" stroke="#777" stroke-width="1.1"/>
<line x1="2266.6" y1="2088.8" x2="2297" y2="2088.8" stroke="#555" stroke-width="1"/>
<line x1="2301.8" y1="2088" x2="2331.8" y2="2088" stroke="#555" stroke-width="1"/>
<line x1="2266.6" y1="2094.96" x2="2297" y2="2094.96" stroke="#555" stroke-width="1"/>
<line x1="2301.8" y1="2094.16" x2="2331.8" y2="2094.16" stroke="#555" stroke-width="1"/>
<line x1="2266.6" y1="2101.12" x2="2297" y2="2101.12" stroke="#555" stroke-width="1"/>
<line x1="2301.8" y1="2100.32" x2="2331.8" y2="2100.32" stroke="#555" stroke-width="1"/>
<line x1="2266.6" y1="2107.28" x2="2297" y2="2107.28" stroke="#555" stroke-width="1"/>
<line x1="2301.8" y1="2106.48" x2="2331.8" y2="2106.48" stroke="#555" stroke-width="1"/>
<line x1="2266.6" y1="2113.44" x2="2297" y2="2113.44" stroke="#555" stroke-width="1"/>
<line x1="2301.8" y1="2112.64" x2="2331.8" y2="2112.64" stroke="#555" stroke-width="1"/>
<line x1="2266.6" y1="2119.6" x2="2297" y2="2119.6" stroke="#555" stroke-width="1"/>
<line x1="2301.8" y1="2118.8" x2="2331.8" y2="2118.8" stroke="#555" stroke-width="1"/>
<line x1="2266.6" y1="2125.76" x2="2297" y2="2125.76" stroke="#555" stroke-width="1"/>
<line x1="2301.8" y1="2124.96" x2="2331.8" y2="2124.96" stroke="#555" stroke-width="1"/>
<line x1="2266.6" y1="2131.92" x2="2297" y2="2131.92" stroke="#555" stroke-width="1"/>
<line x1="2301.8" y1="2131.12" x2="2331.8" y2="2131.12" stroke="#555" stroke-width="1"/>
<line x1="2266.6" y1="2138.08" x2="2297" y2="2138.08" stroke="#555" stroke-width="1"/>
<line x1="2301.8" y1="2137.28" x2="2331.8" y2="2137.28" stroke="#555" stroke-width="1"/>
<line x1="2266.6" y1="2144.24" x2="2297" y2="2144.24" stroke="#555" stroke-width="1"/>
<line x1="2301.8" y1="2143.44" x2="2331.8" y2="2143.44" stroke="#555" stroke-width="1"/>
<line x1="2266.6" y1="2150.4" x2="2297" y2="2150.4" stroke="#555" stroke-width="1"/>
<line x1="2301.8" y1="2149.6" x2="2331.8" y2="2149.6" stroke="#555" stroke-width="1"/>
<line x1="2266.6" y1="2156.56" x2="2297" y2="2156.56" stroke="#555" stroke-width="1"/>
<line x1="2301.8" y1="2155.76" x2="2331.8" y2="2155.76" stroke="#555" stroke-width="1"/>
<line x1="2266.6" y1="2162.72" x2="2297" y2="2162.72" stroke="#555" stroke-width="1"/>
<line x1="2301.8" y1="2161.92" x2="2331.8" y2="2161.92" stroke="#555" stroke-width="1"/>
<rect x="2297" y="2086.9" width="4.8" height="80.7" fill="#fff" stroke="#666" stroke-width="1"/>
</g><g>
<polygon points="373.8,508.6 408.8,508.6 408.8,513.7 373.8,513.7" fill="#000"/>
<polygon points="384.6,508.6 398,508.6 398,526.8 384.6,526.8" fill="#000"/>
<polygon points="385.1,508.7 386.6,503.9 396,503.9 397.5,508.7" fill="#000"/>
<polygon points="476.8,508.6 511.8,508.6 511.8,513.7 476.8,513.7" fill="#000"/>
<polygon points="487.6,508.6 501,508.6 501,526.8 487.6,526.8" fill="#000"/>
<polygon points="488.1,508.7 489.6,503.9 499,503.9 500.5,508.7" fill="#000"/>
<polygon points="579.8,508.6 614.8,508.6 614.8,513.7 579.8,513.7" fill="#000"/>
<polygon points="591.3,508.7 593,503.9 601.6,503.9 603.3,508.7" fill="#000"/>
<polygon points="682.8,508.6 717.8,508.6 717.8,513.7 682.8,513.7" fill="#000"/>
<polygon points="693.6,508.6 707,508.6 707,526.8 693.6,526.8" fill="#000"/>
<polygon points="694.1,508.7 695.6,503.9 705,503.9 706.5,508.7" fill="#000"/>
<polygon points="785.8,508.6 820.8,508.6 820.8,513.7 785.8,513.7" fill="#000"/>
<polygon points="797.3,508.7 799,503.9 807.6,503.9 809.3,508.7" fill="#000"/>
<polygon points="888.8,508.6 923.8,508.6 923.8,513.7 888.8,513.7" fill="#000"/>
<polygon points="899.6,508.6 913,508.6 913,526.8 899.6,526.8" fill="#000"/>
<polygon points="900.1,508.7 901.6,503.9 911,503.9 912.5,508.7" fill="#000"/>
<polygon points="991.8,508.6 1026.8,508.6 1026.8,513.7 991.8,513.7" fill="#000"/>
<polygon points="1003.3,508.7 1005,503.9 1013.6,503.9 1015.3,508.7" fill="#000"/>
<polygon points="1094.8,508.6 1129.8,508.6 1129.8,513.7 1094.8,513.7" fill="#000"/>
<polygon points="1105.6,508.6 1119,508.6 1119,526.8 1105.6,526.8" fill="#000"/>
<polygon points="1106.1,508.7 1107.6,503.9 1117,503.9 1118.5,508.7" fill="#000"/>
<polygon points="1197.8,508.6 1232.8,508.6 1232.8,513.7 1197.8,513.7" fill="#000"/>
<polygon points="1209.3,508.7 1211,503.9 1219.6,503.9 1221.3,508.7" fill="#000"/>
<polygon points="1300.8,508.6 1335.8,508.6 1335.8,513.7 1300.8,513.7" fill="#000"/>
<polygon points="1311.6,508.6 1325,508.6 1325,526.8 1311.6,526.8" fill="#000"/>
<polygon points="1312.1,508.7 1313.6,503.9 1323,503.9 1324.5,508.7" fill="#000"/>
<polygon points="1403.8,508.6 1438.8,508.6 1438.8,513.7 1403.8,513.7" fill="#000"/>
<polygon points="1415.3,508.7 1417,503.9 1425.6,503.9 1427.3,508.7" fill="#000"/>
<polygon points="1506.8,508.6 1541.8,508.6 1541.8,513.7 1506.8,513.7" fill="#000"/>
<polygon points="1517.6,508.6 1531,508.6 1531,526.8 1517.6,526.8" fill="#000"/>
<polygon points="1518.1,508.7 1519.6,503.9 1529,503.9 1530.5,508.7" fill="#000"/>
<polygon points="1609.8,508.6 1644.8,508.6 1644.8,513.7 1609.8,513.7" fill="#000"/>
<polygon points="1621.3,508.7 1623,503.9 1631.6,503.9 1633.3,508.7" fill="#000"/>
<polygon points="1712.8,508.6 1747.8,508.6 1747.8,513.7 1712.8,513.7" fill="#000"/>
<polygon points="1723.6,508.6 1737,508.6 1737,526.8 1723.6,526.8" fill="#000"/>
<polygon points="1724.1,508.7 1725.6,503.9 1735,503.9 1736.5,508.7" fill="#000"/>
<polygon points="1815.8,508.6 1850.8,508.6 1850.8,513.7 1815.8,513.7" fill="#000"/>
<polygon points="1827.3,508.7 1829,503.9 1837.6,503.9 1839.3,508.7" fill="#000"/>
<polygon points="1918.8,508.6 1953.8,508.6 1953.8,513.7 1918.8,513.7" fill="#000"/>
<polygon points="1929.6,508.6 1943,508.6 1943,526.8 1929.6,526.8" fill="#000"/>
<polygon points="1930.1,508.7 1931.6,503.9 1941,503.9 1942.5,508.7" fill="#000"/>
<polygon points="2021.8,508.6 2056.8,508.6 2056.8,513.7 2021.8,513.7" fill="#000"/>
<polygon points="2033.3,508.7 2035,503.9 2043.6,503.9 2045.3,508.7" fill="#000"/>
<polygon points="2124.8,508.6 2159.8,508.6 2159.8,513.7 2124.8,513.7" fill="#000"/>
<polygon points="2135.6,508.6 2149,508.6 2149,526.8 2135.6,526.8" fill="#000"/>
<polygon points="2136.1,508.7 2137.6,503.9 2147,503.9 2148.5,508.7" fill="#000"/>
<polygon points="2227.8,508.6 2262.8,508.6 2262.8,513.7 2227.8,513.7" fill="#000"/>
<polygon points="2239.3,508.7 2241,503.9 2249.6,503.9 2251.3,508.7" fill="#000"/>
<polygon points="2330.8,508.6 2365.8,508.6 2365.8,513.7 2330.8,513.7" fill="#000"/>
<polygon points="2341.6,508.6 2355,508.6 2355,526.8 2341.6,526.8" fill="#000"/>
<polygon points="2342.1,508.7 2343.6,503.9 2353,503.9 2354.5,508.7" fill="#000"/>
<polygon points="2433.8,508.6 2468.8,508.6 2468.8,513.7 2433.8,513.7" fill="#000"/>
<polygon points="2444.6,508.6 2458,508.6 2458,526.8 2444.6,526.8" fill="#000"/>
<polygon points="2445.1,508.7 2446.6,503.9 2456,503.9 2457.5,508.7" fill="#000"/>
<polygon points="287.8,510 299.1,510 299.1,513.5 293.7,513.5 296.2,519.6 293.3,521.2" fill="#000"/>
<polygon points="316.85,574.37 332.62,605.62 338.15,602.83 322.38,571.58" fill="#000"/>
<polygon points="321.71,584.02 327.75,595.98 344,587.78 337.96,575.81" fill="#000"/>
<polygon points="322.03,584.42 318.42,587.92 322.66,596.31 327.62,595.49" fill="#000"/>
<polygon points="363.22,666.23 378.99,697.48 384.53,694.68 368.75,663.44" fill="#000"/>
<polygon points="368.09,675.87 374.12,687.84 390.37,679.64 384.33,667.67" fill="#000"/>
<polygon points="368.4,676.28 364.79,679.78 369.03,688.17 373.99,687.35" fill="#000"/>
<polygon points="409.59,758.09 425.36,789.34 430.9,786.54 415.12,755.3" fill="#000"/>
<polygon points="414.86,768.31 411.34,771.99 415.22,779.67 420.27,779.03" fill="#000"/>
<polygon points="455.96,849.95 471.73,881.2 477.27,878.4 461.5,847.16" fill="#000"/>
<polygon points="460.83,859.59 466.87,871.55 483.11,863.35 477.08,851.39" fill="#000"/>
<polygon points="461.14,859.99 457.53,863.5 461.77,871.89 466.73,871.06" fill="#000"/>
<polygon points="512.81,956.13 520.65,971.66 523.6,970.17 515.75,954.64" fill="#000"/>
<polygon points="507.47,962.41 508.91,965.26 515.96,961.7 514.52,958.85" fill="#000"/>
<polygon points="548.7,1033.67 564.48,1064.91 570.01,1062.12 554.24,1030.88" fill="#000"/>
<polygon points="553.57,1043.31 559.61,1055.27 575.86,1047.07 569.82,1035.11" fill="#000"/>
<polygon points="553.89,1043.71 550.28,1047.21 554.51,1055.61 559.47,1054.78" fill="#000"/>
<polygon points="595.08,1125.53 610.85,1156.77 616.38,1153.98 600.61,1122.73" fill="#000"/>
<polygon points="599.94,1135.17 605.98,1147.13 622.23,1138.93 616.19,1126.97" fill="#000"/>
<polygon points="600.26,1135.57 596.65,1139.07 600.89,1147.46 605.85,1146.64" fill="#000"/>
<polygon points="641.45,1217.39 657.22,1248.63 662.76,1245.84 646.98,1214.59" fill="#000"/>
<polygon points="646.32,1227.03 652.35,1238.99 668.6,1230.79 662.56,1218.83" fill="#000"/>
<polygon points="646.63,1227.43 643.02,1230.93 647.26,1239.32 652.22,1238.5" fill="#000"/>
<polygon points="687.82,1309.25 703.59,1340.49 709.13,1337.7 693.35,1306.45" fill="#000"/>
<polygon points="692.69,1318.89 698.73,1330.85 714.97,1322.65 708.93,1310.69" fill="#000"/>
<polygon points="693,1319.29 689.39,1322.79 693.63,1331.18 698.59,1330.36" fill="#000"/>
<polygon points="718.14,1369.31 724,1380.91 729.35,1378.21 723.5,1366.61" fill="#000"/>
<polygon points="723.1,1379.13 724.9,1382.8 731,1382.8 728.45,1376.43" fill="#000"/>
<rect x="729" y="1377.9" width="7" height="4.9" fill="#000"/>
<polygon points="785.8,1382.8 820.8,1382.8 820.8,1377.9 785.8,1377.9" fill="#000"/>
<polygon points="796.6,1382.8 810,1382.8 810,1364.6 796.6,1364.6" fill="#000"/>
<polygon points="797.1,1382.7 798.6,1387.5 808,1387.5 809.5,1382.7" fill="#000"/>
<polygon points="888.8,1382.8 923.8,1382.8 923.8,1377.9 888.8,1377.9" fill="#000"/>
<polygon points="899.6,1382.8 913,1382.8 913,1364.6 899.6,1364.6" fill="#000"/>
<polygon points="900.1,1382.7 901.6,1387.5 911,1387.5 912.5,1382.7" fill="#000"/>
<polygon points="991.8,1382.8 1026.8,1382.8 1026.8,1377.9 991.8,1377.9" fill="#000"/>
<polygon points="1003.3,1382.7 1005,1387.5 1013.6,1387.5 1015.3,1382.7" fill="#000"/>
<polygon points="1094.8,1382.8 1129.8,1382.8 1129.8,1377.9 1094.8,1377.9" fill="#000"/>
<polygon points="1105.6,1382.8 1119,1382.8 1119,1364.6 1105.6,1364.6" fill="#000"/>
<polygon points="1106.1,1382.7 1107.6,1387.5 1117,1387.5 1118.5,1382.7" fill="#000"/>
<polygon points="1197.8,1382.8 1232.8,1382.8 1232.8,1377.9 1197.8,1377.9" fill="#000"/>
<polygon points="1209.3,1382.7 1211,1387.5 1219.6,1387.5 1221.3,1382.7" fill="#000"/>
<polygon points="1300.8,1382.8 1335.8,1382.8 1335.8,1377.9 1300.8,1377.9" fill="#000"/>
<polygon points="1311.6,1382.8 1325,1382.8 1325,1364.6 1311.6,1364.6" fill="#000"/>
<polygon points="1312.1,1382.7 1313.6,1387.5 1323,1387.5 1324.5,1382.7" fill="#000"/>
<polygon points="1403.8,1382.8 1438.8,1382.8 1438.8,1377.9 1403.8,1377.9" fill="#000"/>
<polygon points="1415.3,1382.7 1417,1387.5 1425.6,1387.5 1427.3,1382.7" fill="#000"/>
<polygon points="1506.8,1382.8 1541.8,1382.8 1541.8,1377.9 1506.8,1377.9" fill="#000"/>
<polygon points="1517.6,1382.8 1531,1382.8 1531,1364.6 1517.6,1364.6" fill="#000"/>
<polygon points="1518.1,1382.7 1519.6,1387.5 1529,1387.5 1530.5,1382.7" fill="#000"/>
<polygon points="1609.8,1382.8 1644.8,1382.8 1644.8,1377.9 1609.8,1377.9" fill="#000"/>
<polygon points="1621.3,1382.7 1623,1387.5 1631.6,1387.5 1633.3,1382.7" fill="#000"/>
<polygon points="1712.8,1382.8 1747.8,1382.8 1747.8,1377.9 1712.8,1377.9" fill="#000"/>
<polygon points="1723.6,1382.8 1737,1382.8 1737,1364.6 1723.6,1364.6" fill="#000"/>
<polygon points="1724.1,1382.7 1725.6,1387.5 1735,1387.5 1736.5,1382.7" fill="#000"/>
<polygon points="1815.8,1382.8 1850.8,1382.8 1850.8,1377.9 1815.8,1377.9" fill="#000"/>
<polygon points="1827.3,1382.7 1829,1387.5 1837.6,1387.5 1839.3,1382.7" fill="#000"/>
<polygon points="1918.8,1382.8 1953.8,1382.8 1953.8,1377.9 1918.8,1377.9" fill="#000"/>
<polygon points="1929.6,1382.8 1943,1382.8 1943,1364.6 1929.6,1364.6" fill="#000"/>
<polygon points="1930.1,1382.7 1931.6,1387.5 1941,1387.5 1942.5,1382.7" fill="#000"/>
<polygon points="2021.8,1382.8 2056.8,1382.8 2056.8,1377.9 2021.8,1377.9" fill="#000"/>
<polygon points="2033.3,1382.7 2035,1387.5 2043.6,1387.5 2045.3,1382.7" fill="#000"/>
<polygon points="2124.8,1382.8 2159.8,1382.8 2159.8,1377.9 2124.8,1377.9" fill="#000"/>
<polygon points="2135.6,1382.8 2149,1382.8 2149,1364.6 2135.6,1364.6" fill="#000"/>
<polygon points="2136.1,1382.7 2137.6,1387.5 2147,1387.5 2148.5,1382.7" fill="#000"/>
<polygon points="2227.8,1382.8 2262.8,1382.8 2262.8,1377.9 2227.8,1377.9" fill="#000"/>
<polygon points="2239.3,1382.7 2241,1387.5 2249.6,1387.5 2251.3,1382.7" fill="#000"/>
<polygon points="2330.8,1382.8 2365.8,1382.8 2365.8,1377.9 2330.8,1377.9" fill="#000"/>
<polygon points="2341.6,1382.8 2355,1382.8 2355,1364.6 2341.6,1364.6" fill="#000"/>
<polygon points="2342.1,1382.7 2343.6,1387.5 2353,1387.5 2354.5,1382.7" fill="#000"/>
<polygon points="2433.8,1382.8 2468.8,1382.8 2468.8,1377.9 2433.8,1377.9" fill="#000"/>
<polygon points="2444.6,1382.8 2458,1382.8 2458,1364.6 2444.6,1364.6" fill="#000"/>
<polygon points="2445.1,1382.7 2446.6,1387.5 2456,1387.5 2457.5,1382.7" fill="#000"/>
<rect x="2537.3" y="1377.8" width="20.2" height="5" fill="#000"/>
<polygon points="2549.4,1382.7 2550.4,1387.2 2554.6,1387.2 2554.6,1382.7" fill="#000"/>
<rect x="2537" y="508.6" width="29" height="5.1" fill="#000"/>
<polygon points="2548.6,508.7 2550.2,503.9 2554.2,503.9 2554.2,508.7" fill="#000"/>
<rect x="2560.9" y="508.6" width="5.1" height="27.2" fill="#000"/>
<polygon points="2566,519.7 2571,520.2 2571,524.2 2566,524.8" fill="#000"/>
<rect x="2557.4" y="604.8" width="8.6" height="1839.2" fill="#000"/>
<polygon points="2566,617 2571,617.5 2571,621.5 2566,622" fill="#000"/>
<rect x="2547.6" y="741.7" width="10.4" height="13.2" fill="#000"/>
<rect x="2547.6" y="836" width="10.4" height="13.2" fill="#000"/>
<rect x="2547.6" y="1042" width="10.4" height="13.2" fill="#000"/>
<rect x="2547.6" y="1261.2" width="10.4" height="13.2" fill="#000"/>
<rect x="2547.6" y="1775.4" width="10.4" height="13.2" fill="#000"/>
<rect x="2547.6" y="1995" width="10.4" height="13.2" fill="#000"/>
<rect x="2547.6" y="2201" width="10.4" height="13.2" fill="#000"/>
<rect x="2547.6" y="2420.7" width="10.4" height="13.2" fill="#000"/>
<rect x="2557.6" y="2444" width="3.5" height="92" fill="#000"/>
<rect x="2561.1" y="2512.3" width="4.9" height="17.2" fill="#000"/>
<polygon points="2566,2427.2 2571,2427.7 2571,2431.5 2566,2432" fill="#000"/>
<polygon points="2566,2524.2 2570.6,2524.7 2570.6,2528.9 2566,2529.4" fill="#000"/>
<rect x="2554.2" y="2534.8" width="11.8" height="7.1" fill="#000"/>
<rect x="2563" y="2531.3" width="3" height="10.6" fill="#000"/>
<polygon points="1300.8,1667.5 1335.8,1667.5 1335.8,1674.5 1300.8,1674.5" fill="#000"/>
<polygon points="1311.6,1667.5 1325,1667.5 1325,1685.7 1311.6,1685.7" fill="#000"/>
<polygon points="1312.1,1667.6 1313.6,1662.8 1323,1662.8 1324.5,1667.6" fill="#000"/>
<polygon points="1403.8,1667.5 1438.8,1667.5 1438.8,1674.5 1403.8,1674.5" fill="#000"/>
<polygon points="1415.3,1667.6 1417,1662.8 1425.6,1662.8 1427.3,1667.6" fill="#000"/>
<polygon points="1506.8,1667.5 1541.8,1667.5 1541.8,1674.5 1506.8,1674.5" fill="#000"/>
<polygon points="1517.6,1667.5 1531,1667.5 1531,1685.7 1517.6,1685.7" fill="#000"/>
<polygon points="1518.1,1667.6 1519.6,1662.8 1529,1662.8 1530.5,1667.6" fill="#000"/>
<polygon points="1609.8,1667.5 1644.8,1667.5 1644.8,1674.5 1609.8,1674.5" fill="#000"/>
<polygon points="1621.3,1667.6 1623,1662.8 1631.6,1662.8 1633.3,1667.6" fill="#000"/>
<polygon points="1712.8,1667.5 1747.8,1667.5 1747.8,1674.5 1712.8,1674.5" fill="#000"/>
<polygon points="1723.6,1667.5 1737,1667.5 1737,1685.7 1723.6,1685.7" fill="#000"/>
<polygon points="1724.1,1667.6 1725.6,1662.8 1735,1662.8 1736.5,1667.6" fill="#000"/>
<polygon points="1815.8,1667.5 1850.8,1667.5 1850.8,1674.5 1815.8,1674.5" fill="#000"/>
<polygon points="1827.3,1667.6 1829,1662.8 1837.6,1662.8 1839.3,1667.6" fill="#000"/>
<polygon points="1918.8,1667.5 1953.8,1667.5 1953.8,1674.5 1918.8,1674.5" fill="#000"/>
<polygon points="1929.6,1667.5 1943,1667.5 1943,1685.7 1929.6,1685.7" fill="#000"/>
<polygon points="1930.1,1667.6 1931.6,1662.8 1941,1662.8 1942.5,1667.6" fill="#000"/>
<polygon points="2021.8,1667.5 2056.8,1667.5 2056.8,1674.5 2021.8,1674.5" fill="#000"/>
<polygon points="2033.3,1667.6 2035,1662.8 2043.6,1662.8 2045.3,1667.6" fill="#000"/>
<polygon points="2124.8,1667.5 2159.8,1667.5 2159.8,1674.5 2124.8,1674.5" fill="#000"/>
<polygon points="2135.6,1667.5 2149,1667.5 2149,1685.7 2135.6,1685.7" fill="#000"/>
<polygon points="2136.1,1667.6 2137.6,1662.8 2147,1662.8 2148.5,1667.6" fill="#000"/>
<polygon points="2227.8,1667.5 2262.8,1667.5 2262.8,1674.5 2227.8,1674.5" fill="#000"/>
<polygon points="2239.3,1667.6 2241,1662.8 2249.6,1662.8 2251.3,1667.6" fill="#000"/>
<polygon points="2330.8,1667.5 2365.8,1667.5 2365.8,1674.5 2330.8,1674.5" fill="#000"/>
<polygon points="2341.6,1667.5 2355,1667.5 2355,1685.7 2341.6,1685.7" fill="#000"/>
<polygon points="2342.1,1667.6 2343.6,1662.8 2353,1662.8 2354.5,1667.6" fill="#000"/>
<polygon points="2433.8,1667.5 2468.8,1667.5 2468.8,1674.5 2433.8,1674.5" fill="#000"/>
<polygon points="2445.3,1667.6 2447,1662.8 2455.6,1662.8 2457.3,1667.6" fill="#000"/>
<rect x="2537.1" y="1667.5" width="20.4" height="7" fill="#000"/>
<polygon points="2548.8,1667.6 2550.6,1663 2554.3,1663 2554.3,1667.6" fill="#000"/>
<rect x="1220.5" y="1667.5" width="12.5" height="7.1" fill="#000"/>
<rect x="1220.5" y="1667.5" width="7.1" height="11.3" fill="#000"/>
<polygon points="1220.4,1722.4 1220.4,1757.4 1227.4,1757.4 1227.4,1722.4" fill="#000"/>
<polygon points="1220.4,1733.2 1220.4,1746.6 1238.6,1746.6 1238.6,1733.2" fill="#000"/>
<polygon points="1220.5,1733.7 1215.7,1735.2 1215.7,1744.6 1220.5,1746.1" fill="#000"/>
<polygon points="1220.4,1866.3 1220.4,1901.3 1227.4,1901.3 1227.4,1866.3" fill="#000"/>
<polygon points="1220.4,1877.1 1220.4,1890.5 1238.6,1890.5 1238.6,1877.1" fill="#000"/>
<polygon points="1220.5,1877.6 1215.7,1879.1 1215.7,1888.5 1220.5,1890" fill="#000"/>
<polygon points="1227.5,1973.8 1202,1973.8 1202,1971.5 1214,1971 1216.5,1967 1219.5,1966 1221,1960 1224.5,1959 1224.5,1949 1227.5,1949" fill="#000"/>
<polygon points="1095,1967 1130,1967 1130,1973.6 1095,1973.6" fill="#000"/>
<polygon points="1105.8,1967 1119.2,1967 1119.2,1985.2 1105.8,1985.2" fill="#000"/>
<polygon points="1106.3,1967.1 1107.8,1962.3 1117.2,1962.3 1118.7,1967.1" fill="#000"/>
<polygon points="1019,1967 1043,1967 1043,1972.2 1028.3,1972.6 1029.5,1975.5 1025,1978" fill="#000"/>
<polygon points="1040.32,2009.11 1056.02,2040.4 1061.11,2037.84 1045.42,2006.56" fill="#000"/>
<polygon points="1045.17,2018.76 1051.17,2030.74 1067.44,2022.58 1061.43,2010.6" fill="#000"/>
<polygon points="1045.48,2019.17 1041.86,2022.66 1046.08,2031.06 1051.04,2030.25" fill="#000"/>
<polygon points="1086.41,2101 1102.11,2132.28 1107.2,2129.73 1091.51,2098.44" fill="#000"/>
<polygon points="1091.66,2111.23 1088.13,2114.91 1091.99,2122.59 1097.04,2121.96" fill="#000"/>
<polygon points="1132.51,2192.89 1148.2,2224.17 1153.29,2221.62 1137.6,2190.33" fill="#000"/>
<polygon points="1137.35,2202.54 1143.36,2214.52 1159.62,2206.36 1153.62,2194.38" fill="#000"/>
<polygon points="1137.66,2202.94 1134.04,2206.44 1138.26,2214.84 1143.22,2214.03" fill="#000"/>
<polygon points="1178.6,2284.78 1194.29,2316.06 1199.38,2313.51 1183.69,2282.22" fill="#000"/>
<polygon points="1183.44,2294.43 1189.45,2306.41 1205.71,2298.25 1199.71,2286.27" fill="#000"/>
<polygon points="1183.75,2294.83 1180.13,2298.32 1184.35,2306.73 1189.31,2305.92" fill="#000"/>
<polygon points="1224.69,2376.66 1240.38,2407.95 1245.47,2405.39 1229.78,2374.11" fill="#000"/>
<polygon points="1229.53,2386.32 1235.54,2398.3 1251.81,2390.14 1245.8,2378.16" fill="#000"/>
<polygon points="1229.84,2386.72 1226.23,2390.21 1230.44,2398.61 1235.4,2397.8" fill="#000"/>
<polygon points="1270.78,2468.55 1286.47,2499.84 1291.57,2497.28 1275.87,2466" fill="#000"/>
<polygon points="1275.62,2478.21 1281.63,2490.18 1297.9,2482.02 1291.89,2470.05" fill="#000"/>
<polygon points="1275.93,2478.61 1272.32,2482.1 1276.53,2490.5 1281.49,2489.69" fill="#000"/>
<polygon points="1302.09,2530.97 1306.8,2540.36 1311.8,2537.85 1307.09,2528.46" fill="#000"/>
<rect x="1311" y="2536.6" width="17.2" height="3" fill="#000"/>
<polygon points="1403.7,2541.9 1438.7,2541.9 1438.7,2534.8 1403.7,2534.8" fill="#000"/>
<polygon points="1414.5,2541.9 1427.9,2541.9 1427.9,2523.7 1414.5,2523.7" fill="#000"/>
<polygon points="1415,2541.8 1416.5,2546.6 1425.9,2546.6 1427.4,2541.8" fill="#000"/>
<polygon points="1506.73,2541.9 1541.73,2541.9 1541.73,2534.8 1506.73,2534.8" fill="#000"/>
<polygon points="1517.53,2541.9 1530.93,2541.9 1530.93,2523.7 1517.53,2523.7" fill="#000"/>
<polygon points="1518.03,2541.8 1519.53,2546.6 1528.93,2546.6 1530.43,2541.8" fill="#000"/>
<polygon points="1609.76,2541.9 1644.76,2541.9 1644.76,2534.8 1609.76,2534.8" fill="#000"/>
<polygon points="1621.26,2541.8 1622.96,2546.6 1631.56,2546.6 1633.26,2541.8" fill="#000"/>
<polygon points="1712.79,2541.9 1747.79,2541.9 1747.79,2534.8 1712.79,2534.8" fill="#000"/>
<polygon points="1723.59,2541.9 1736.99,2541.9 1736.99,2523.7 1723.59,2523.7" fill="#000"/>
<polygon points="1724.09,2541.8 1725.59,2546.6 1734.99,2546.6 1736.49,2541.8" fill="#000"/>
<polygon points="1815.82,2541.9 1850.82,2541.9 1850.82,2534.8 1815.82,2534.8" fill="#000"/>
<polygon points="1827.32,2541.8 1829.02,2546.6 1837.62,2546.6 1839.32,2541.8" fill="#000"/>
<polygon points="1918.85,2541.9 1953.85,2541.9 1953.85,2534.8 1918.85,2534.8" fill="#000"/>
<polygon points="1929.65,2541.9 1943.05,2541.9 1943.05,2523.7 1929.65,2523.7" fill="#000"/>
<polygon points="1930.15,2541.8 1931.65,2546.6 1941.05,2546.6 1942.55,2541.8" fill="#000"/>
<polygon points="2021.88,2541.9 2056.88,2541.9 2056.88,2534.8 2021.88,2534.8" fill="#000"/>
<polygon points="2033.38,2541.8 2035.08,2546.6 2043.68,2546.6 2045.38,2541.8" fill="#000"/>
<polygon points="2124.91,2541.9 2159.91,2541.9 2159.91,2534.8 2124.91,2534.8" fill="#000"/>
<polygon points="2135.71,2541.9 2149.11,2541.9 2149.11,2523.7 2135.71,2523.7" fill="#000"/>
<polygon points="2136.21,2541.8 2137.71,2546.6 2147.11,2546.6 2148.61,2541.8" fill="#000"/>
<polygon points="2227.94,2541.9 2262.94,2541.9 2262.94,2534.8 2227.94,2534.8" fill="#000"/>
<polygon points="2239.44,2541.8 2241.14,2546.6 2249.74,2546.6 2251.44,2541.8" fill="#000"/>
<polygon points="2330.97,2541.9 2365.97,2541.9 2365.97,2534.8 2330.97,2534.8" fill="#000"/>
<polygon points="2341.77,2541.9 2355.17,2541.9 2355.17,2523.7 2341.77,2523.7" fill="#000"/>
<polygon points="2342.27,2541.8 2343.77,2546.6 2353.17,2546.6 2354.67,2541.8" fill="#000"/>
<polygon points="2434,2541.9 2469,2541.9 2469,2534.8 2434,2534.8" fill="#000"/>
<polygon points="2445.5,2541.8 2447.2,2546.6 2455.8,2546.6 2457.5,2541.8" fill="#000"/>
<rect x="2537.1" y="2534.8" width="17.3" height="7.1" fill="#000"/>
<polygon points="2549.1,2541.8 2550.4,2546.5 2554.2,2546.5 2554.2,2541.8" fill="#000"/>
<rect x="693.35" y="835.85" width="13.5" height="13.5" fill="#000"/>
<rect x="693.35" y="1041.85" width="13.5" height="13.5" fill="#000"/>
<rect x="897.55" y="835.85" width="13.5" height="13.5" fill="#000"/>
<rect x="897.55" y="1041.85" width="13.5" height="13.5" fill="#000"/>
<rect x="1105.45" y="835.85" width="13.5" height="13.5" fill="#000"/>
<rect x="1105.45" y="1041.85" width="13.5" height="13.5" fill="#000"/>
<rect x="1311.55" y="835.85" width="13.5" height="13.5" fill="#000"/>
<rect x="1311.55" y="1041.85" width="13.5" height="13.5" fill="#000"/>
<rect x="1517.75" y="835.85" width="13.5" height="13.5" fill="#000"/>
<rect x="1517.75" y="1041.85" width="13.5" height="13.5" fill="#000"/>
<rect x="1723.75" y="835.85" width="13.5" height="13.5" fill="#000"/>
<rect x="1723.75" y="1041.85" width="13.5" height="13.5" fill="#000"/>
<rect x="1929.75" y="835.85" width="13.5" height="13.5" fill="#000"/>
<rect x="1929.75" y="1041.85" width="13.5" height="13.5" fill="#000"/>
<rect x="2135.75" y="835.85" width="13.5" height="13.5" fill="#000"/>
<rect x="2135.75" y="1041.85" width="13.5" height="13.5" fill="#000"/>
<rect x="2341.85" y="835.85" width="13.5" height="13.5" fill="#000"/>
<rect x="2341.85" y="1041.85" width="13.5" height="13.5" fill="#000"/>
<rect x="1311.55" y="1994.85" width="13.5" height="13.5" fill="#000"/>
<rect x="1517.75" y="1994.85" width="13.5" height="13.5" fill="#000"/>
<rect x="1723.75" y="1994.85" width="13.5" height="13.5" fill="#000"/>
<rect x="1929.75" y="1994.85" width="13.5" height="13.5" fill="#000"/>
<rect x="2135.75" y="1994.85" width="13.5" height="13.5" fill="#000"/>
<rect x="2341.85" y="1994.85" width="13.5" height="13.5" fill="#000"/>
<rect x="1311.65" y="2200.85" width="13.5" height="13.5" fill="#000"/>
<rect x="2135.75" y="2200.85" width="13.5" height="13.5" fill="#000"/>
<rect x="1517.8" y="2200.9" width="13.6" height="13.4" fill="#000"/>
<rect x="1723.7" y="2200.8" width="13.3" height="13.2" fill="#000"/>
<rect x="1929.8" y="2200.9" width="13.3" height="13.2" fill="#000"/>
<rect x="2341.5" y="2200.8" width="13.5" height="13.1" fill="#000"/>
<path d="M2566 644.1 L2691.3 644.1 L2691.3 505.6 L3282.5 505.6 L3282.5 766.1 L3406.1 766.1 L3406.1 2530.4 L2682.6 2530.4 L2682.6 2410.6 L2566 2410.6" fill="none" stroke="#000" stroke-width="3.6" stroke-linejoin="miter" stroke-linecap="butt"/>
<path d="M2984.5 975 L2984.5 2211" fill="none" stroke="#000" stroke-width="3.6" stroke-linejoin="miter" stroke-linecap="butt"/>
<path d="M2915.7 975 L3053 975" fill="none" stroke="#000" stroke-width="3.6" stroke-linejoin="miter" stroke-linecap="butt"/>
<path d="M2915.7 2211 L3053 2211" fill="none" stroke="#000" stroke-width="3.6" stroke-linejoin="miter" stroke-linecap="butt"/>
<rect x="746.1" y="835.1" width="4.8" height="171.6" fill="#000"/>
<rect x="746.1" y="835.1" width="42.2" height="4.8" fill="#000"/>
<rect x="746.1" y="1001.4" width="65.9" height="5.3" fill="#000"/>
<rect x="750.9" y="944" width="58.2" height="4.3" fill="#000"/>
<rect x="809.1" y="835.1" width="8.1" height="171.6" fill="#000"/>
<rect x="889.7" y="835.1" width="7.7" height="171.6" fill="#000"/>
<rect x="809.1" y="835.1" width="88.3" height="8.4" fill="#000"/>
<rect x="809.1" y="998.4" width="88.3" height="8.3" fill="#000"/>
<rect x="1507.1" y="840.1" width="72.4" height="2.8" fill="#000"/>
<rect x="1507.1" y="840.1" width="2.9" height="40.2" fill="#000"/>
<rect x="1576.3" y="840.1" width="3.2" height="15.7" fill="#000"/>
<rect x="1576.3" y="878" width="3.2" height="100.2" fill="#000"/>
<rect x="1576.3" y="1000.7" width="3.2" height="7.9" fill="#000"/>
<rect x="1454.8" y="880.1" width="65.2" height="8.8" fill="#000"/>
<rect x="1454.8" y="880.1" width="8.3" height="32.2" fill="#000"/>
<rect x="1454.8" y="938.9" width="8.3" height="33.9" fill="#000"/>
<rect x="1454.8" y="1000.1" width="65.2" height="8.5" fill="#000"/>
<rect x="1511.8" y="880.1" width="8.2" height="128.5" fill="#000"/>
<rect x="1520" y="1005.7" width="59.5" height="2.9" fill="#000"/>
<rect x="1520" y="908.3" width="56.5" height="3" fill="#000"/>
<rect x="1535.1" y="911.3" width="2.9" height="29.6" fill="#000"/>
<rect x="1535.1" y="938" width="41.4" height="2.9" fill="#000"/>
<rect x="1648" y="839.9" width="284.2" height="3" fill="#000"/>
<rect x="1648" y="839.9" width="2.8" height="48.9" fill="#000"/>
<rect x="1648" y="886.4" width="5.3" height="2.4" fill="#000"/>
<rect x="1648" y="966.5" width="2.8" height="40.2" fill="#000"/>
<rect x="1648" y="966.5" width="5.3" height="2.2" fill="#000"/>
<rect x="1647" y="1003.3" width="285.2" height="3.4" fill="#000"/>
<rect x="1929.3" y="839.9" width="2.9" height="166.8" fill="#000"/>
<rect x="1694.5" y="886.8" width="2.7" height="82.2" fill="#000"/>
<rect x="1676.2" y="886.8" width="21" height="2.4" fill="#000"/>
<rect x="1676.2" y="966.7" width="21" height="2.3" fill="#000"/>
<rect x="1697.2" y="927.4" width="232.8" height="2.9" fill="#000"/>
<rect x="1765.9" y="886.8" width="2.9" height="82.2" fill="#000"/>
<rect x="2152.1" y="845.6" width="4.7" height="161.5" fill="#000"/>
<rect x="2152.1" y="845.6" width="65.9" height="4.5" fill="#000"/>
<rect x="2156.8" y="898.6" width="61.2" height="4.1" fill="#000"/>
<rect x="2152.1" y="1001.9" width="42.9" height="5.2" fill="#000"/>
<rect x="2218" y="845.6" width="9.1" height="161.5" fill="#000"/>
<rect x="2218" y="845.6" width="84.2" height="8.8" fill="#000"/>
<rect x="2294" y="845.6" width="8.2" height="161.5" fill="#000"/>
<rect x="2217.1" y="998" width="54.7" height="9.1" fill="#000"/>
<rect x="2566" y="1382.8" width="63" height="8.5" fill="#000"/>
<rect x="2620.9" y="1382.8" width="8.1" height="14.7" fill="#000"/>
<rect x="2620.9" y="1434.7" width="8.1" height="28" fill="#000"/>
<rect x="2566" y="1453.8" width="63" height="8.9" fill="#000"/>
<rect x="2557.4" y="1382.8" width="17" height="79.9" fill="#000"/>
<rect x="1429.1" y="2039" width="9" height="175.3" fill="#000"/>
<rect x="1429.1" y="2039" width="88.7" height="8.8" fill="#000"/>
<rect x="1509" y="2039" width="8.8" height="11.1" fill="#000"/>
<rect x="1509" y="2072.3" width="8.8" height="142" fill="#000"/>
<rect x="1429.1" y="2205.9" width="102.3" height="8.4" fill="#000"/>
<rect x="1584.7" y="2043.1" width="65.1" height="8.2" fill="#000"/>
<rect x="1584.7" y="2043.1" width="8.5" height="31.8" fill="#000"/>
<rect x="1584.7" y="2161.9" width="8.5" height="12.9" fill="#000"/>
<rect x="1584.7" y="2167" width="65.1" height="7.8" fill="#000"/>
<rect x="1642" y="2043.1" width="7.8" height="131.7" fill="#000"/>
<rect x="1649.8" y="2043.1" width="124.8" height="3.1" fill="#000"/>
<rect x="1771.7" y="2043.1" width="2.9" height="13" fill="#000"/>
<rect x="1771.7" y="2078.3" width="2.9" height="22.5" fill="#000"/>
<rect x="1771.7" y="2122.9" width="2.9" height="56.1" fill="#000"/>
<rect x="1771.7" y="2201.4" width="2.9" height="12.6" fill="#000"/>
<rect x="1647.2" y="2174.8" width="2.9" height="39.2" fill="#000"/>
<rect x="1584.7" y="2211.1" width="189.9" height="3" fill="#000"/>
<rect x="1649.8" y="2151.8" width="122.3" height="3.2" fill="#000"/>
<rect x="1701.1" y="2095" width="3" height="56.8" fill="#000"/>
<rect x="1701.1" y="2095" width="71" height="2.9" fill="#000"/>
<rect x="1829.3" y="2042.8" width="228.5" height="2.8" fill="#000"/>
<rect x="1829.3" y="2042.8" width="2.9" height="40.2" fill="#000"/>
<rect x="1829.3" y="2080.8" width="9.3" height="2.2" fill="#000"/>
<rect x="1829.3" y="2160.1" width="2.9" height="54.1" fill="#000"/>
<rect x="1829.3" y="2160.1" width="9.3" height="2.2" fill="#000"/>
<rect x="1829.3" y="2211.1" width="228.5" height="3.1" fill="#000"/>
<rect x="2054.8" y="2042.8" width="3" height="171.4" fill="#000"/>
<rect x="1880" y="2080.8" width="2.7" height="82.1" fill="#000"/>
<rect x="1861.3" y="2080.8" width="21.4" height="2.2" fill="#000"/>
<rect x="1861.3" y="2160.4" width="21.4" height="2.5" fill="#000"/>
<rect x="1882.7" y="2118.9" width="172.3" height="2.8" fill="#000"/>
<rect x="1934" y="2080.8" width="2.8" height="39.4" fill="#000"/>
<rect x="2190.6" y="2043.1" width="4.8" height="174.3" fill="#000"/>
<rect x="2190.6" y="2043.1" width="43.1" height="4.4" fill="#000"/>
<rect x="2195.4" y="2146.5" width="62.1" height="4.6" fill="#000"/>
<rect x="2190.6" y="2212.9" width="80.8" height="4.5" fill="#000"/>
<rect x="2257.5" y="2043.1" width="7.6" height="174.3" fill="#000"/>
<rect x="2255.6" y="2043.1" width="86.1" height="8.2" fill="#000"/>
<rect x="2333.5" y="2043.1" width="8.2" height="174.3" fill="#000"/>
<rect x="2257.5" y="2209.2" width="13.9" height="8.2" fill="#000"/>
<rect x="2293.8" y="2209.2" width="47.9" height="8.2" fill="#000"/>
</g><g>
<polygon points="493.4,503.4 495.2,503.4 495.2,512.7 493.4,512.7" fill="#fff"/>
<polygon points="699.4,503.4 701.2,503.4 701.2,512.7 699.4,512.7" fill="#fff"/>
<polygon points="905.4,503.4 907.2,503.4 907.2,512.7 905.4,512.7" fill="#fff"/>
<polygon points="1111.4,503.4 1113.2,503.4 1113.2,512.7 1111.4,512.7" fill="#fff"/>
<polygon points="1317.4,503.4 1319.2,503.4 1319.2,512.7 1317.4,512.7" fill="#fff"/>
<polygon points="1523.4,503.4 1525.2,503.4 1525.2,512.7 1523.4,512.7" fill="#fff"/>
<polygon points="1729.4,503.4 1731.2,503.4 1731.2,512.7 1729.4,512.7" fill="#fff"/>
<polygon points="1935.4,503.4 1937.2,503.4 1937.2,512.7 1935.4,512.7" fill="#fff"/>
<polygon points="2141.4,503.4 2143.2,503.4 2143.2,512.7 2141.4,512.7" fill="#fff"/>
<polygon points="2347.4,503.4 2349.2,503.4 2349.2,512.7 2347.4,512.7" fill="#fff"/>
<polygon points="366.06,683.4 366.87,685 376.15,680.32 375.34,678.71" fill="#fff"/>
<polygon points="458.8,867.11 459.61,868.72 468.9,864.03 468.08,862.43" fill="#fff"/>
<polygon points="551.54,1050.83 552.35,1052.44 561.64,1047.75 560.83,1046.15" fill="#fff"/>
<polygon points="644.29,1234.55 645.1,1236.16 654.38,1231.47 653.57,1229.86" fill="#fff"/>
<polygon points="905.4,1388 907.2,1388 907.2,1378.9 905.4,1378.9" fill="#fff"/>
<polygon points="1111.4,1388 1113.2,1388 1113.2,1378.9 1111.4,1378.9" fill="#fff"/>
<polygon points="1317.4,1388 1319.2,1388 1319.2,1378.9 1317.4,1378.9" fill="#fff"/>
<polygon points="1523.4,1388 1525.2,1388 1525.2,1378.9 1523.4,1378.9" fill="#fff"/>
<polygon points="1729.4,1388 1731.2,1388 1731.2,1378.9 1729.4,1378.9" fill="#fff"/>
<polygon points="1935.4,1388 1937.2,1388 1937.2,1378.9 1935.4,1378.9" fill="#fff"/>
<polygon points="2141.4,1388 2143.2,1388 2143.2,1378.9 2141.4,1378.9" fill="#fff"/>
<polygon points="2347.4,1388 2349.2,1388 2349.2,1378.9 2347.4,1378.9" fill="#fff"/>
<path d="M2554.4 2537.6 H2562 V2531.5" fill="none" stroke="#ddd" stroke-width="1.2"/>
<polygon points="1317.4,1662.3 1319.2,1662.3 1319.2,1673.5 1317.4,1673.5" fill="#fff"/>
<polygon points="1523.4,1662.3 1525.2,1662.3 1525.2,1673.5 1523.4,1673.5" fill="#fff"/>
<polygon points="1729.4,1662.3 1731.2,1662.3 1731.2,1673.5 1729.4,1673.5" fill="#fff"/>
<polygon points="1935.4,1662.3 1937.2,1662.3 1937.2,1673.5 1935.4,1673.5" fill="#fff"/>
<polygon points="2141.4,1662.3 2143.2,1662.3 2143.2,1673.5 2141.4,1673.5" fill="#fff"/>
<polygon points="2347.4,1662.3 2349.2,1662.3 2349.2,1673.5 2347.4,1673.5" fill="#fff"/>
<polygon points="1215.2,1882.9 1215.2,1884.7 1226.4,1884.7 1226.4,1882.9" fill="#fff"/>
<polygon points="1043.12,2026.28 1043.92,2027.89 1052.77,2023.45 1051.97,2021.84" fill="#fff"/>
<polygon points="1135.3,2210.06 1136.11,2211.67 1144.96,2207.23 1144.15,2205.62" fill="#fff"/>
<polygon points="1227.48,2393.83 1228.29,2395.44 1237.14,2391 1236.33,2389.39" fill="#fff"/>
<polygon points="1523.33,2547.1 1525.13,2547.1 1525.13,2535.8 1523.33,2535.8" fill="#fff"/>
<polygon points="1729.39,2547.1 1731.19,2547.1 1731.19,2535.8 1729.39,2535.8" fill="#fff"/>
<polygon points="1935.45,2547.1 1937.25,2547.1 1937.25,2535.8 1935.45,2535.8" fill="#fff"/>
<polygon points="2141.51,2547.1 2143.31,2547.1 2143.31,2535.8 2141.51,2535.8" fill="#fff"/>
<polygon points="2347.57,2547.1 2349.37,2547.1 2349.37,2535.8 2347.57,2535.8" fill="#fff"/>
</g></svg>
</body></html>
